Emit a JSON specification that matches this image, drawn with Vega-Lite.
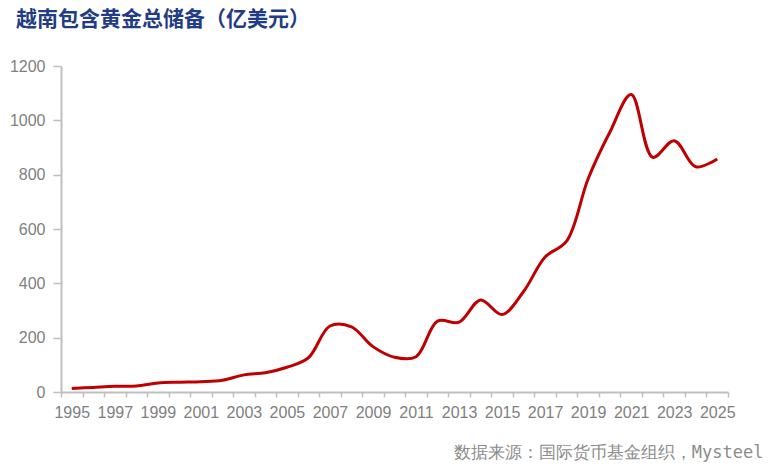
{
  "$schema": "https://vega.github.io/schema/vega-lite/v6.json",
  "autosize": {"type": "none"},
  "padding": {"left": 61, "top": 66, "right": 40, "bottom": 80},
  "width": 667,
  "height": 326,
  "background": "white",
  "title": {
    "text": "越南包含黄金总储备（亿美元）",
    "anchor": "start",
    "frame": "group",
    "dx": -45,
    "offset": 28,
    "font": "Noto Sans CJK SC",
    "fontSize": 21,
    "fontWeight": "bold",
    "color": "#1F3C85"
  },
  "data": {
    "values": [
      {"year": 1995, "value": 13},
      {"year": 1996, "value": 17},
      {"year": 1997, "value": 21},
      {"year": 1998, "value": 22},
      {"year": 1999, "value": 33},
      {"year": 2000, "value": 36},
      {"year": 2001, "value": 38},
      {"year": 2002, "value": 43},
      {"year": 2003, "value": 63},
      {"year": 2004, "value": 71},
      {"year": 2005, "value": 91},
      {"year": 2006, "value": 126},
      {"year": 2007, "value": 243},
      {"year": 2008, "value": 240},
      {"year": 2009, "value": 167},
      {"year": 2010, "value": 128},
      {"year": 2011, "value": 130},
      {"year": 2012, "value": 261},
      {"year": 2013, "value": 257},
      {"year": 2014, "value": 339},
      {"year": 2015, "value": 285},
      {"year": 2016, "value": 370},
      {"year": 2017, "value": 497},
      {"year": 2018, "value": 555},
      {"year": 2019, "value": 785},
      {"year": 2020, "value": 955},
      {"year": 2021, "value": 1095},
      {"year": 2022, "value": 864},
      {"year": 2023, "value": 925},
      {"year": 2024, "value": 829},
      {"year": 2025, "value": 858}
    ]
  },
  "mark": {
    "type": "line",
    "interpolate": "catmull-rom",
    "color": "#C00000",
    "strokeWidth": 3
  },
  "encoding": {
    "x": {
      "field": "year",
      "type": "ordinal",
      "bandPosition": 0.5,
      "scale": {"type": "band", "paddingInner": 0, "paddingOuter": 0},
      "axis": {
        "title": "数据来源：国际货币基金组织，Mysteel",
        "titleFont": "DejaVu Sans Mono",
        "titleFontSize": 17,
        "titleFontWeight": "normal",
        "titleColor": "#8C8C8C",
        "titleAnchor": "end",
        "titleAlign": "right",
        "titleBaseline": "alphabetic",
        "titleX": 702,
        "titleY": 65,
        "labelAngle": 0,
        "labelExpr": "datum.value % 2 == 1 ? datum.label : ''",
        "labelOverlap": false,
        "labelFont": "Liberation Sans",
        "labelFontSize": 16,
        "labelColor": "#808080",
        "labelPadding": 7,
        "tickBand": "extent",
        "tickSize": 5,
        "tickColor": "#BFBFBF",
        "domainColor": "#BFBFBF",
        "domainWidth": 2,
        "tickWidth": 1.5,
        "grid": false
      }
    },
    "y": {
      "field": "value",
      "type": "quantitative",
      "scale": {"domain": [0, 1200]},
      "axis": {
        "title": null,
        "format": "d",
        "values": [0, 200, 400, 600, 800, 1000, 1200],
        "labelFont": "Liberation Sans",
        "labelFontSize": 16,
        "labelColor": "#808080",
        "labelPadding": 8,
        "tickSize": 8,
        "tickColor": "#BFBFBF",
        "domainColor": "#BFBFBF",
        "domainWidth": 2,
        "tickWidth": 1.5,
        "grid": false
      }
    }
  },
  "config": {"view": {"stroke": null}}
}
